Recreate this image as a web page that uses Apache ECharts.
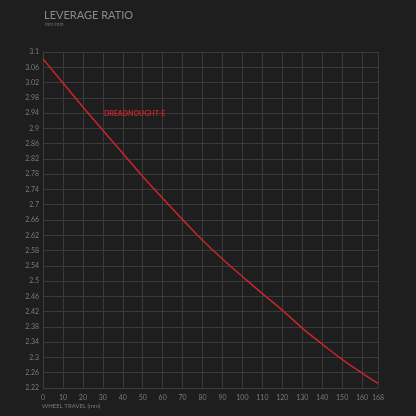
<!DOCTYPE html>
<html>
<head>
<meta charset="utf-8">
<style>
html,body{margin:0;padding:0;background:#1e1e1e;}
#chart{width:416px;height:416px;}
</style>
<script src="https://cdn.jsdelivr.net/npm/echarts@6/dist/echarts.min.js"></script>
</head>
<body>
<div id="chart"></div>
<script>
var travel = [0, 10, 20, 30, 40, 50, 60, 70, 80, 90, 100, 110, 120, 130, 140, 150, 160, 168];
var ratio = [3.082, 3.019, 2.956, 2.895, 2.835, 2.774, 2.717, 2.661, 2.607, 2.558, 2.512, 2.467, 2.424, 2.377, 2.335, 2.295, 2.259, 2.232];
var seriesName = 'DREADNOUGHT-E';
var titleText = 'LEVERAGE RATIO';
var subText = 'mm/mm';
var xName = 'WHEEL TRAVEL (mm)';

var pts = travel.map(function (t, i) { return [t, ratio[i]]; });
var chart = echarts.init(document.getElementById('chart'), null, {renderer: 'canvas'});
chart.setOption({
  backgroundColor: '#1e1e1e',
  animation: false,
  title: [
    {text: titleText, left: 44, top: 10, padding: 0, textStyle: {color: '#8a8a8a', fontSize: 11, fontWeight: 'normal', fontFamily: 'Lato'}},
    {text: subText, left: 45, top: 22, padding: 0, textStyle: {color: '#6e6e6e', fontSize: 5, fontWeight: 'normal', fontFamily: 'Lato'}},
    {text: xName, left: 42, top: 403, padding: 0, textStyle: {color: '#7a7a7a', fontSize: 6, fontWeight: 'normal', fontFamily: 'Lato'}},
    {text: seriesName, left: 104, top: 110, padding: 0, textStyle: {color: '#c9252c', fontSize: 7, fontWeight: 'bold', fontFamily: 'Lato'}}
  ],
  grid: {left: 43, right: 38, top: 52, bottom: 28},
  xAxis: {
    type: 'value', min: 0, max: 168, interval: 10,
    axisLine: {show: true, lineStyle: {color: '#3c3c3c'}},
    axisTick: {show: false},
    splitLine: {show: true, lineStyle: {color: '#3a3a3a', width: 1}},
    axisLabel: {color: '#7a7a7a', fontSize: 7, fontFamily: 'Lato', margin: 6}
  },
  yAxis: {
    type: 'value', min: 2.22, max: 3.1, interval: 0.04,
    axisLine: {show: true, lineStyle: {color: '#3c3c3c'}},
    axisTick: {show: false},
    splitLine: {show: true, lineStyle: {color: '#3a3a3a', width: 1}},
    axisLabel: {color: '#7a7a7a', fontSize: 7, fontFamily: 'Lato', margin: 4,
      formatter: function (v) { return String(Math.round(v * 100) / 100); }}
  },
  series: [{
    name: seriesName,
    type: 'line',
    data: pts,
    smooth: true,
    showSymbol: false,
    lineStyle: {color: '#c9252c', width: 1.5}
  }]
});
</script>
</body>
</html>
